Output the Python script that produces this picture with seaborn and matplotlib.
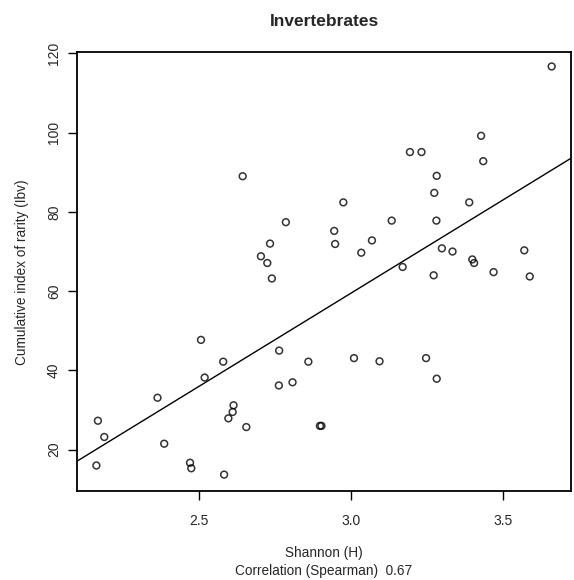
import numpy as np
import pandas as pd
import seaborn as sns
import matplotlib
matplotlib.use("Agg")
import matplotlib.pyplot as plt

# Shannon diversity (H) vs cumulative index of rarity (Ibv)
shannon = [2.644, 2.786, 2.734, 2.704, 2.725, 2.740,
           3.660, 3.428, 3.194, 3.232, 3.435, 3.282, 3.274, 2.975, 3.389,
           3.134, 3.281, 2.945, 2.948, 3.069, 3.034, 3.299, 3.334, 3.570,
           3.399, 3.405, 3.170, 3.272, 3.469, 3.588,
           2.168, 2.189, 2.163, 2.364, 2.386, 2.507, 2.519, 2.580, 2.614,
           2.611, 2.597, 2.656, 2.471, 2.475, 2.583, 2.764, 2.860, 2.763,
           2.808, 3.010, 3.094, 3.247, 3.282, 2.898, 2.903]
rarity = [89.0, 77.4, 72.0, 68.8, 67.1, 63.2,
          116.7, 99.2, 95.1, 95.1, 92.8, 89.1, 84.8, 82.4, 82.4,
          77.8, 77.8, 75.2, 71.9, 72.8, 69.7, 70.8, 70.0, 70.3,
          68.0, 67.1, 66.1, 64.0, 64.8, 63.7,
          27.3, 23.2, 16.0, 33.1, 21.5, 47.7, 38.2, 42.2, 31.2,
          29.5, 27.9, 25.7, 16.7, 15.3, 13.7, 45.0, 42.2, 36.2,
          37.0, 43.1, 42.3, 43.1, 37.9, 26.0, 26.0]

x_ticks = [2.5, 3.0, 3.5]
y_ticks = [20, 40, 60, 80, 100, 120]
spearman = "0.67"

df = pd.DataFrame({"Shannon": shannon, "Ibv": rarity})

sns.set_style("white")
plt.rcParams["font.family"] = ["Liberation Sans", "DejaVu Sans"]

fig = plt.figure(figsize=(5.74, 5.80), dpi=100)
ax = fig.add_axes([0.134, 0.153, 0.861, 0.757])

ax.set_xlim(2.099, 3.724)
ax.set_ylim(9.5, 120.3)

# open circles + least-squares line across the full panel
sns.regplot(data=df, x="Shannon", y="Ibv", ax=ax, ci=None, truncate=False,
            marker="o",
            scatter_kws=dict(s=24, facecolors="none", edgecolors="black", linewidths=1.1),
            line_kws=dict(color="black", linewidth=1.0))

ax.set_xlim(2.099, 3.724)
ax.set_ylim(9.5, 120.3)

ax.set_xticks(x_ticks)
ax.set_xticklabels([f"{t:.1f}" for t in x_ticks])
ax.set_yticks(y_ticks)
ax.set_yticklabels([str(t) for t in y_ticks], rotation=90, va="center")

ax.tick_params(axis="both", direction="out", length=6.5, width=1.0, color="black",
               labelsize=10, left=True, bottom=True)
ax.tick_params(axis="x", pad=10)
ax.tick_params(axis="y", pad=5)

for s in ax.spines.values():
    s.set_visible(True)
    s.set_color("black")
    s.set_linewidth(1.3)

ax.set_xlabel(f"Shannon (H)\nCorrelation (Spearman)  {spearman}", fontsize=9.8,
              labelpad=13, linespacing=1.3)
ax.set_ylabel("Cumulative index of rarity (Ibv)", fontsize=9.8, labelpad=13)
ax.set_title("Invertebrates", fontsize=12.5, fontweight="bold", pad=19)

fig.savefig("out.png", dpi=100, facecolor="white")
